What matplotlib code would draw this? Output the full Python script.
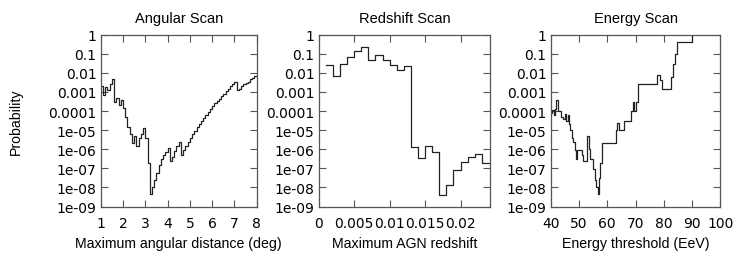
import matplotlib
matplotlib.use("Agg")
import matplotlib.pyplot as plt
import matplotlib.ticker as mticker
import numpy as np

plt.rcParams["font.family"] = ["Liberation Sans", "DejaVu Sans"]
plt.rcParams["font.size"] = 10.5

# Angular scan: probability vs maximum angular distance (deg), steps of 0.1 deg
ang_x = [1.0, 1.1, 1.2, 1.3, 1.4, 1.5, 1.6, 1.7, 1.8, 1.9,
         2.0, 2.1, 2.2, 2.3, 2.4, 2.5, 2.6, 2.7, 2.8, 2.9,
         3.0, 3.1, 3.2, 3.3, 3.4, 3.5, 3.6, 3.7, 3.8, 3.9,
         4.0, 4.1, 4.2, 4.3, 4.4, 4.5, 4.6, 4.7, 4.8, 4.9,
         5.0, 5.1, 5.2, 5.3, 5.4, 5.5, 5.6, 5.7, 5.8, 5.9,
         6.0, 6.1, 6.2, 6.3, 6.4, 6.5, 6.6, 6.7, 6.8, 6.9,
         7.0, 7.1, 7.2, 7.3, 7.4, 7.5, 7.6, 7.7, 7.8, 7.9, 8.0]
ang_p = [2e-3, 7e-4, 1.8e-3, 1.2e-3, 2.5e-3, 5e-3, 3e-4, 5e-4, 2.2e-4, 4e-4,
         1.5e-4, 5e-5, 1.5e-5, 6e-6, 2e-6, 5e-6, 1.5e-6, 4e-6, 6e-6, 1.3e-5,
         4e-6, 2e-7, 4.5e-9, 1e-8, 2.5e-8, 6e-8, 1.5e-7, 3e-7, 5e-7, 7e-7,
         1.2e-6, 2.5e-7, 4e-7, 8e-7, 1.5e-6, 2.5e-6, 5e-7, 9e-7, 1.5e-6, 2.5e-6,
         4e-6, 6e-6, 9e-6, 1.4e-5, 2e-5, 3e-5, 4.5e-5, 6.5e-5, 9e-5, 1.3e-4,
         1.8e-4, 2.5e-4, 3.3e-4, 4.5e-4, 6e-4, 8e-4, 1.1e-3, 1.5e-3, 2e-3, 2.7e-3,
         3.5e-3, 1.2e-3, 1.5e-3, 2e-3, 2.5e-3, 3e-3, 3.5e-3, 4.5e-3, 5.5e-3, 7e-3, 8e-3]

# Redshift scan: probability vs maximum AGN redshift
z_x = [0.001, 0.002, 0.003, 0.004, 0.005, 0.006, 0.007, 0.008, 0.009, 0.010,
       0.011, 0.012, 0.013, 0.014, 0.015, 0.016, 0.017, 0.018, 0.019, 0.020,
       0.021, 0.022, 0.023, 0.0245]
z_p = [0.025, 0.0066, 0.03, 0.068, 0.135, 0.23, 0.046, 0.09, 0.046, 0.025,
       0.0135, 0.022, 1.3e-6, 3.6e-7, 1.4e-6, 7e-7, 4.2e-9, 1.3e-8, 8e-8, 2.2e-7,
       3.8e-7, 5.9e-7, 1.8e-7, 1.8e-7]

# Energy scan: probability vs energy threshold (EeV)
e_x = [40.0, 40.5, 41.0, 41.5, 42.0, 42.5, 43.5, 44.5, 45.0, 45.5,
       46.0, 46.5, 47.0, 47.5, 48.0, 48.5, 49.0, 49.3, 51.0, 51.5,
       53.0, 53.5, 54.0, 55.0, 55.5, 56.0, 56.6, 57.2, 57.5, 58.0,
       63.0, 63.6, 64.0, 66.0, 68.5, 69.0, 69.5, 70.0, 71.0, 77.5,
       78.5, 79.3, 82.7, 83.2, 84.0, 84.7, 90.0]
e_p = [8e-5, 1.2e-4, 6e-5, 1.3e-4, 4e-4, 1e-4, 5e-5, 4e-5, 7e-5, 3e-5,
       6e-5, 2e-5, 1e-5, 4e-6, 2.5e-6, 9e-7, 3e-7, 9e-7, 5e-7, 2.5e-7,
       5e-6, 1e-6, 3e-7, 9e-8, 2.5e-8, 1e-8, 4.5e-9, 3e-8, 2e-7, 2e-6,
       1e-5, 2.5e-5, 1e-5, 3e-5, 1e-4, 3e-4, 1e-4, 3e-4, 2.5e-3, 8e-3,
       4e-3, 1.5e-3, 6e-3, 3e-2, 1e-1, 4e-1, 1.0]

ytick_vals = [1, 0.1, 0.01, 0.001, 0.0001, 1e-5, 1e-6, 1e-7, 1e-8, 1e-9]
ytick_labels = ["1", "0.1", "0.01", "0.001", "0.0001", "1e-05", "1e-06",
                "1e-07", "1e-08", "1e-09"]

fig = plt.figure(figsize=(7.35, 2.55), dpi=100)

bottom = (255 - 207.5) / 255
height = 171.8 / 255
boxes = [(100.7, 156.0), (318.7, 171.6), (550.7, 169.6)]

panels = [
    (ang_x, ang_p, "Angular Scan", "Maximum angular distance (deg)", (1, 8),
     [1, 2, 3, 4, 5, 6, 7, 8], ["1", "2", "3", "4", "5", "6", "7", "8"]),
    (z_x, z_p, "Redshift Scan", "Maximum AGN redshift", (0, 0.0242),
     [0, 0.005, 0.01, 0.015, 0.02], ["0", "0.005", "0.01", "0.015", "0.02"]),
    (e_x, e_p, "Energy Scan", "Energy threshold (EeV)", (40, 100),
     [40, 50, 60, 70, 80, 90, 100], ["40", "50", "60", "70", "80", "90", "100"]),
]

for (left, width), (x, p, title, xlabel, xlim, xt, xtl) in zip(boxes, panels):
    ax = fig.add_axes([left / 735, bottom, width / 735, height])
    ax.step(x, p, where="post", color="#222222", lw=0.9)
    ax.set_yscale("log")
    ax.set_ylim(1e-9, 1)
    ax.set_xlim(*xlim)
    ax.set_yticks(ytick_vals)
    ax.set_yticklabels(ytick_labels, family="DejaVu Sans", fontsize=10)
    ax.yaxis.set_minor_locator(mticker.LogLocator(base=10, subs=(2, 4, 6)))
    ax.yaxis.set_minor_formatter(mticker.NullFormatter())
    ax.set_xticks(xt)
    ax.set_xticklabels(xtl, family="DejaVu Sans", fontsize=10)
    ax.tick_params(which="both", direction="in", top=True, right=True,
                   colors="#555555", labelcolor="black", width=0.8)
    ax.tick_params(which="major", length=5)
    ax.tick_params(which="minor", length=2.5)
    ax.tick_params(axis="x", which="major", pad=7)
    ax.tick_params(axis="y", which="major", pad=3)
    for s in ax.spines.values():
        s.set_color("#555555")
        s.set_linewidth(0.9)
    ax.set_title(title, pad=9, fontsize=10.5)
    ax.set_xlabel(xlabel, labelpad=4, fontsize=10.2)
    if title == "Angular Scan":
        ax.set_ylabel("Probability", labelpad=18, fontsize=10.2)

fig.savefig("out.png", dpi=100)
